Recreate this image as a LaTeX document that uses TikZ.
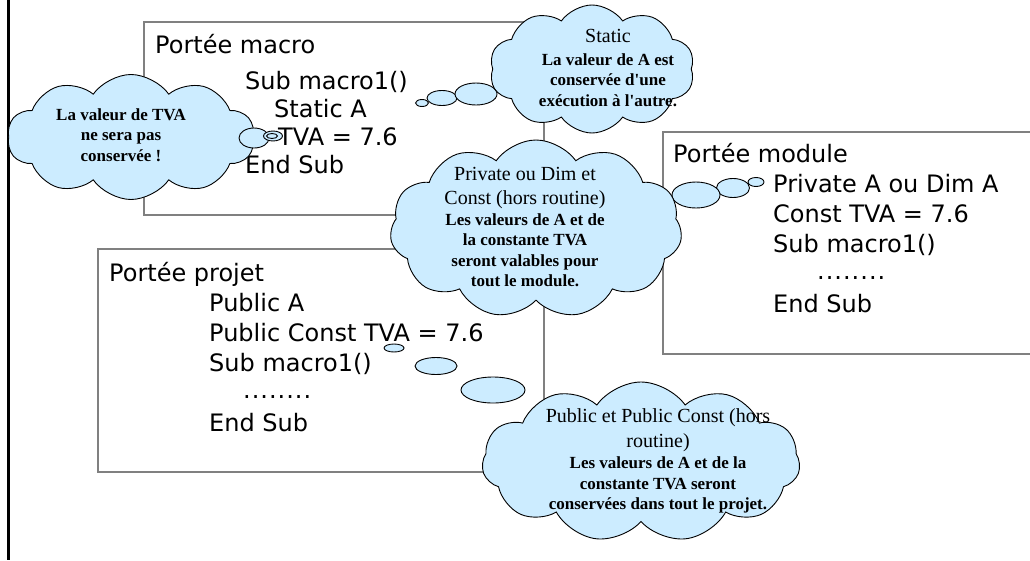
\documentclass[tikz,border=0pt]{standalone}
\usepackage{fontspec}
\setmainfont{Liberation Serif}
\newfontfamily\codefont{DejaVu Sans}
\usetikzlibrary{shapes.symbols}
\definecolor{cloudblue}{RGB}{204,236,255}
\definecolor{boxgray}{RGB}{128,128,128}
\newcommand{\plainline}[1]{{\mdseries\fontsize{20}{20}\selectfont #1}}
\newcommand{\codedots}{.\kern1pt.\kern1pt.\kern1pt.\kern1pt.\kern1pt.\kern1pt.\kern1pt.}
\tikzset{
%Define style for the scope boxes
scope box/.style={draw=boxgray, line width=1.2pt},
%Define style for the code lines
code/.style={anchor=base west, inner sep=0pt, font=\codefont\fontsize{24}{30}\selectfont},
%Define style for the thought clouds and their bubbles
thought/.style={cloud, cloud puffs=#1, cloud puff arc=110, cloud ignores aspect, draw=black, fill=cloudblue, line width=0.9pt, inner sep=0pt},
bubble/.style={draw=black, fill=cloudblue, line width=0.9pt},
cloud text/.style={align=center, inner sep=0pt, font=\fontsize{17}{20.5}\selectfont\bfseries},
}

\begin{document}
\begin{tikzpicture}[x=1pt,y=-1pt]
\useasboundingbox (0,0) rectangle (1030,560);
% Draw the frame line
\draw[line width=2.5pt] (8.5,0) -- (8.5,560);
% Draw the three scope boxes
\draw[scope box] (144,22) rectangle (544,215);
\draw[scope box] (98,249) rectangle (544,472);
\draw[scope box] (1030,132) -| (663,354) -- (1030,354);
% Macro scope
\node[code] (macroTitle) at (155,53) {Portée macro};
\node[code] (macroSub) at (245,89) {Sub macro1()};
\node[code] (macroStatic) at (274,117) {Static A};
\node[code] (macroTva) at (278,145) {TVA = 7.6};
\node[code] (macroEnd) at (245,173) {End Sub};
% Project scope
\node[code] (projTitle) at (109,281) {Portée projet};
\node[code] (projPublic) at (209,311) {Public A};
\node[code] (projConst) at (209,341) {Public Const TVA = 7.6};
\node[code] (projSub) at (209,371) {Sub macro1()};
\node[code] (projDots) at (243,398) {\codedots};
\node[code] (projEnd) at (209,431) {End Sub};
% Module scope
\node[code] (modTitle) at (673,162) {Portée module};
\node[code] (modPrivate) at (773,192) {Private A ou Dim A};
\node[code] (modConst) at (773,222) {Const TVA = 7.6};
\node[code] (modSub) at (773,252) {Sub macro1()};
\node[code] (modDots) at (817,279) {\codedots};
\node[code] (modEnd) at (773,312) {End Sub};
% Bubbles leading to the clouds
\draw[bubble] (422,103) ellipse [x radius=6.5pt, y radius=3.5pt];
\draw[bubble] (442,98) ellipse [x radius=15pt, y radius=7.5pt];
\draw[bubble] (476,94) ellipse [x radius=21pt, y radius=11pt];
\draw[bubble] (756,182) ellipse [x radius=8pt, y radius=4.5pt];
\draw[bubble] (733,188) ellipse [x radius=16.5pt, y radius=9.5pt];
\draw[bubble] (696,195) ellipse [x radius=24pt, y radius=13pt];
\draw[bubble] (394,348) ellipse [x radius=10pt, y radius=4pt];
\draw[bubble] (436,366) ellipse [x radius=21pt, y radius=8.5pt];
\draw[bubble] (493,390) ellipse [x radius=32pt, y radius=13pt];
% Clouds
\node[thought=10, minimum width=247pt, minimum height=125pt] (tvaCloud) at (131,137) {};
\node[thought=10, minimum width=205pt, minimum height=128pt] (staticCloud) at (592,69) {};
\node[thought=11, minimum width=292pt, minimum height=178pt] (privCloud) at (536,229) {};
\node[thought=11, minimum width=318pt, minimum height=160pt] (pubCloud) at (641,462) {};
\draw[bubble] (254,138) ellipse [x radius=15pt, y radius=10pt];
\draw[bubble] (273,136) ellipse [x radius=9.5pt, y radius=5pt];
\draw[bubble] (272,136) ellipse [x radius=5.5pt, y radius=2.5pt];
% Cloud texts
\node[cloud text] (tvaText) at (121,135) {La valeur de TVA\\ne sera pas\\conservée !};
\node[cloud text] (staticText) at (608,68) {\plainline{Static}\\[2pt]La valeur de A est\\conservée d\textquotesingle une\\exécution à l\textquotesingle autre.};
\node[cloud text] (privText) at (525,227) {\plainline{Private ou Dim et}\\[4pt]\plainline{Const (hors routine)}\\Les valeurs de A et de\\la constante TVA\\seront valables pour\\tout le module.};
\node[cloud text] (pubText) at (658,461) {\plainline{Public et Public Const (hors}\\[4pt]\plainline{routine)}\\[1pt]Les valeurs de A et de la\\constante TVA seront\\conservées dans tout le projet.};
\end{tikzpicture}
\end{document}
